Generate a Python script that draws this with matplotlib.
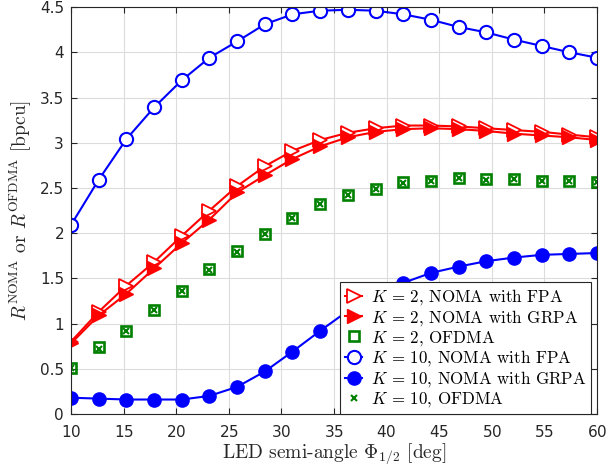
import numpy as np
import matplotlib
matplotlib.use("Agg")
import matplotlib.pyplot as plt
import matplotlib.ticker as ticker

# LED semi-angle values (deg)
phi = np.linspace(10, 60, 20)

# K = 2
k2_noma_fpa = [0.80, 1.13, 1.42, 1.68, 1.97, 2.25, 2.52, 2.74, 2.91, 3.03,
               3.11, 3.16, 3.19, 3.19, 3.18, 3.16, 3.14, 3.12, 3.09, 3.06]
k2_noma_grpa = [0.78, 1.09, 1.33, 1.61, 1.89, 2.15, 2.45, 2.64, 2.82, 2.96,
                3.06, 3.12, 3.15, 3.16, 3.15, 3.13, 3.10, 3.08, 3.06, 3.03]
k2_ofdma = [0.51, 0.74, 0.92, 1.15, 1.36, 1.60, 1.80, 1.99, 2.17, 2.32,
            2.42, 2.49, 2.57, 2.58, 2.61, 2.60, 2.60, 2.58, 2.58, 2.57]

# K = 10
k10_noma_fpa = [2.09, 2.59, 3.04, 3.39, 3.69, 3.94, 4.12, 4.31, 4.42, 4.46,
                4.47, 4.46, 4.42, 4.36, 4.28, 4.22, 4.14, 4.07, 4.00, 3.94]
k10_noma_grpa = [0.18, 0.17, 0.16, 0.16, 0.16, 0.20, 0.30, 0.47, 0.69, 0.92,
                 1.14, 1.31, 1.45, 1.56, 1.63, 1.69, 1.73, 1.76, 1.77, 1.78]
k10_ofdma = [0.51, 0.72, 0.92, 1.15, 1.36, 1.59, 1.79, 1.99, 2.17, 2.32,
             2.42, 2.49, 2.55, 2.58, 2.61, 2.59, 2.60, 2.58, 2.58, 2.57]

x_ticks = [10, 15, 20, 25, 30, 35, 40, 45, 50, 55, 60]
y_ticks = [0, 0.5, 1, 1.5, 2, 2.5, 3, 3.5, 4, 4.5]

plt.rcParams['mathtext.fontset'] = 'cm'
plt.rcParams['axes.formatter.use_mathtext'] = True

fig = plt.figure(figsize=(6.13, 4.72), dpi=100)
ax = fig.add_axes([0.1158, 0.1229, 0.8582, 0.8621])

red = '#ff0000'
blue = '#0000ff'
green = '#008000'

ax.plot(phi, k2_noma_fpa, color=red, lw=1.5, marker='>', ms=10, mfc='white',
        mec=red, mew=1.3, label=r'$K$ = 2, NOMA with FPA')
ax.plot(phi, k2_noma_grpa, color=red, lw=1.5, marker='>', ms=10, mfc=red,
        mec=red, label=r'$K$ = 2, NOMA with GRPA')
ax.plot(phi, k2_ofdma, ls='none', marker='s', ms=6.5, mfc='none',
        mec=green, mew=1.9, label=r'$K$ = 2, OFDMA')
ax.plot(phi, k10_noma_fpa, color=blue, lw=1.5, marker='o', ms=9.5, mfc='white',
        mec=blue, mew=1.5, label=r'$K$ = 10, NOMA with FPA')
ax.plot(phi, k10_noma_grpa, color=blue, lw=1.5, marker='o', ms=9.5, mfc=blue,
        mec=blue, label=r'$K$ = 10, NOMA with GRPA')
ax.plot(phi, k10_ofdma, ls='none', marker='x', ms=5, mec=green, mew=1.5,
        label=r'$K$ = 10, OFDMA')

ax.set_xlim(10, 60)
ax.set_ylim(0, 4.5)
ax.set_xticks(x_ticks)
ax.set_yticks(y_ticks)
ax.yaxis.set_major_formatter(ticker.FuncFormatter(lambda v, p: f'{v:g}'))
ax.tick_params(direction='in', top=True, right=True, labelsize=11,
               colors='#262626', length=4)
ax.tick_params(axis='x', pad=7)
ax.tick_params(axis='y', pad=5)
for s in ax.spines.values():
    s.set_color('#262626')
    s.set_linewidth(0.8)
ax.grid(True, color='#dcdcdc', lw=0.8)
ax.set_axisbelow(True)

ax.set_xlabel(r'LED semi-angle $\Phi_{1/2}$ [deg]', family='cmr10', fontsize=14,
              color='#262626', labelpad=1)
ax.set_ylabel(r'$R^{\mathrm{NOMA}}$ or $R^{\mathrm{OFDMA}}$ [bpcu]', family='cmr10',
              fontsize=14, color='#262626', labelpad=4)

leg = ax.legend(loc='lower right', bbox_to_anchor=(0.989, 0.0),
                prop={'family': 'cmr10', 'size': 12.2},
                fancybox=False, framealpha=1, edgecolor='#262626',
                borderaxespad=0.0, handlelength=1.0, handletextpad=0.5,
                labelspacing=0.05, borderpad=0.3)
leg.get_frame().set_linewidth(0.8)

plt.savefig('out.png', dpi=100)
